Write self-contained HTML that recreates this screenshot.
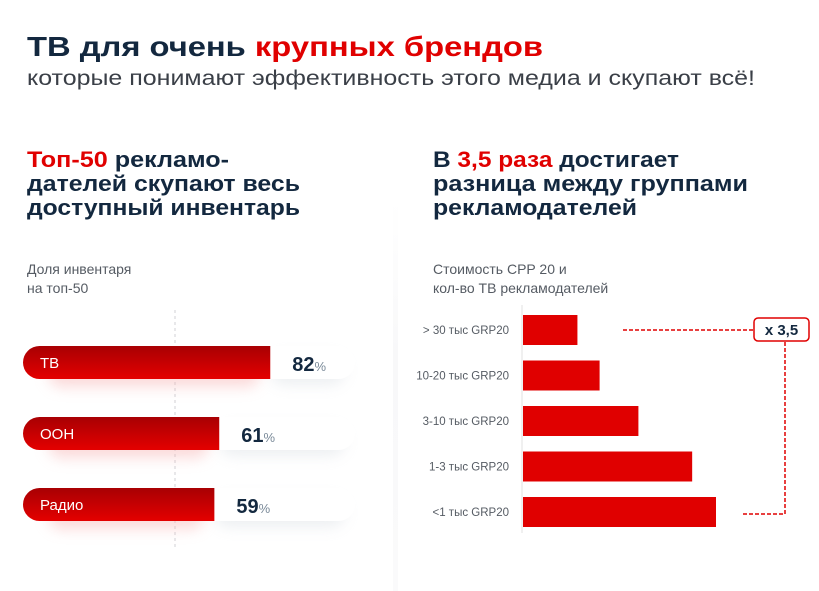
<!DOCTYPE html>
<html><head><meta charset="utf-8">
<style>
html,body{margin:0;padding:0;background:#fff;}
svg{display:block;font-family:"Liberation Sans","DejaVu Sans",sans-serif;}
</style></head>
<body>
<svg id="page" width="819" height="591" viewBox="0 0 819 591" xmlns="http://www.w3.org/2000/svg">
<defs>
  <linearGradient id="redg" x1="0" y1="0" x2="0" y2="1">
    <stop offset="0" stop-color="#a80003"/><stop offset="1" stop-color="#e40000"/>
  </linearGradient>
  <linearGradient id="divg" x1="0" y1="0" x2="0" y2="1">
    <stop offset="0" stop-color="#fff"/><stop offset="0.4" stop-color="#f8f8f9"/><stop offset="1" stop-color="#fafafb"/>
  </linearGradient>
  <filter id="sh" x="-20%" y="-50%" width="140%" height="250%"><feGaussianBlur stdDeviation="7"/></filter>
</defs>
<rect x="393" y="200" width="5" height="391" fill="url(#divg)"/>

<text x="27" y="56" font-size="28" font-weight="bold" fill="#13283f" textLength="516" lengthAdjust="spacingAndGlyphs">ТВ для очень <tspan fill="#e00000">крупных брендов</tspan></text>
<text x="27" y="85" font-size="21" fill="#3a3f47" textLength="728" lengthAdjust="spacingAndGlyphs">которые понимают эффективность этого медиа и скупают всё!</text>

<g font-size="22" font-weight="bold" fill="#13283f">
<text x="27" y="167" textLength="202" lengthAdjust="spacingAndGlyphs"><tspan fill="#e00000">Топ-50</tspan> рекламо-</text>
<text x="27" y="191" textLength="273" lengthAdjust="spacingAndGlyphs">дателей скупают весь</text>
<text x="27" y="215" textLength="273" lengthAdjust="spacingAndGlyphs">доступный инвентарь</text>
</g>
<g font-size="22" font-weight="bold" fill="#13283f">
<text x="433" y="167" textLength="246" lengthAdjust="spacingAndGlyphs">В <tspan fill="#e00000">3,5 раза</tspan> достигает</text>
<text x="433" y="191" textLength="315" lengthAdjust="spacingAndGlyphs">разница между группами</text>
<text x="433" y="215" textLength="204" lengthAdjust="spacingAndGlyphs">рекламодателей</text>
</g>
<g font-size="14" fill="#555b63">
<text x="27" y="274">Доля инвентаря</text>
<text x="27" y="293">на топ-50</text>
<text x="433" y="274">Стоимость CPP 20 и</text>
<text x="433" y="293">кол-во ТВ рекламодателей</text>
</g>

<line x1="175" y1="310" x2="175" y2="548" stroke="#d0d0d4" stroke-dasharray="3,3"/>
<g id="left"></g>
<g id="right"></g>
</svg>
<script>
const leftCats = ["ТВ","ООН","Радио"];
const leftVals = [82,61,59];
const rightCats = ["> 30 тыс GRP20","10-20 тыс GRP20","3-10 тыс GRP20","1-3 тыс GRP20","<1 тыс GRP20"];
const rightVals = [1.0,1.4,2.1,3.07,3.5];
const multLabel = "x 3,5";

const NS="http://www.w3.org/2000/svg";
function mk(tag,attrs,parent){const e=document.createElementNS(NS,tag);for(const k in attrs)e.setAttribute(k,attrs[k]);parent.appendChild(e);return e;}

// Left chart
const L=document.getElementById('left');
const lx0=23, lTrackEnd=355, lh=33;
function lxs(v){return 71+v*2.43;}
function lys(i){return 346+i*71;}
leftCats.forEach((c,i)=>{
  const y=lys(i), xe=lxs(leftVals[i]);
  const sh=mk('rect',{x:lx0+25,y:y+14,width:xe-lx0-35,height:lh-6,rx:14,fill:'#f7b5b5',opacity:0.5,filter:'url(#sh)'},L);
  
  
  const sh2=mk('rect',{x:xe,y:y+10,width:lTrackEnd-xe-10,height:lh-4,rx:14,fill:'#c4ccd4',opacity:0.3,filter:'url(#sh)'},L);
  
  
  const tr=mk('rect',{x:lx0,y:y,width:lTrackEnd-lx0,height:lh,rx:16.5,fill:'#fff'},L);
  
  
  const p=mk('path',{d:`M${xe},${y} H${lx0+16.5} A16.5,16.5 0 0 0 ${lx0+16.5},${y+lh} H${xe} Z`,fill:'url(#redg)'},L);
  
  
  const t=mk('text',{x:lx0+17,y:y+22,'font-size':15,fill:'#fff'},L);
  t.textContent=c;
  
  
  const v=mk('text',{x:xe+22,y:y+25,'font-size':20,'font-weight':'bold',fill:'#13283f'},L);
  v.textContent=leftVals[i];
  const ts=mk('tspan',{'font-size':13,'font-weight':'normal',fill:'#7a8a99'},v);
  ts.textContent='%';
  
  
});

// Right chart
const R=document.getElementById('right');
const rx0=522, rbh=30;
function rxs(v){return rx0+v*(194/3.5);}
function rys(i){return 315+i*45.5;}
const ax=mk('line',{x1:rx0,y1:305,x2:rx0,y2:533,stroke:'#e0e0e0'},R);


rightCats.forEach((c,i)=>{
  const y=rys(i);
  const b=mk('rect',{x:rx0+1,y:y,width:rxs(rightVals[i])-rx0-1,height:rbh,fill:'#e00000'},R);
  
  
  const t=mk('text',{x:509,y:y+19,'font-size':11.5,fill:'#555b63','text-anchor':'end'},R);
  t.textContent=c;
  
  
});
const yTop=rys(0)+rbh/2, yBot=rys(rightVals.length-1)+rbh/2;
const l1=mk('path',{d:`M623,${yTop} H754`,stroke:'#e00000','stroke-width':1.5,'stroke-dasharray':'4,2',fill:'none'},R);


const l2=mk('path',{d:`M785,${yTop+12} V${yBot+2} H741`,stroke:'#e00000','stroke-width':1.5,'stroke-dasharray':'4,2',fill:'none'},R);


const box=mk('rect',{x:754,y:318,width:55,height:23,rx:4,fill:'#fff',stroke:'#e00000','stroke-width':1.5},R);


const bt=mk('text',{x:781.5,y:335,'font-size':15,'font-weight':'bold',fill:'#13283f','text-anchor':'middle'},R);
bt.textContent=multLabel;


</script>
</body></html>
